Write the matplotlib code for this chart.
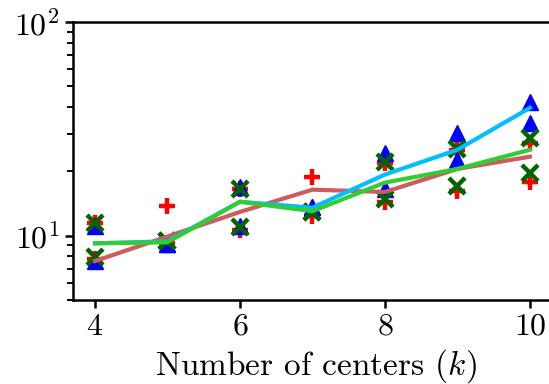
import matplotlib
matplotlib.use('Agg')
from matplotlib import pyplot as plt

plt.rcParams['font.family'] = 'serif'
plt.rcParams['font.serif'] = ['cmr10', 'DejaVu Serif']
plt.rcParams['mathtext.fontset'] = 'cm'
plt.rcParams['axes.formatter.use_mathtext'] = True

# number of centers
k = [4, 5, 6, 7, 8, 9, 10]

# individual runs (two per k)
red_hi = [11.4, 13.7, 16.5, 18.9, 21.8, 25.2, 27.2]
red_lo = [7.8, 9.2, 10.6, 12.3, 14.4, 16.1, 17.9]
blue_hi = [11.1, 9.1, 16.8, 13.6, 24.4, 30.3, 42.3]
blue_lo = [7.6, 9.1, 11.1, 13.6, 16.6, 22.6, 33.7]
green_hi = [11.5, 9.4, 16.6, 12.9, 22.2, 25.5, 28.7]
green_lo = [7.9, 9.4, 11.0, 12.9, 14.9, 17.1, 19.7]

# trend lines
brown_line = [7.6, 9.9, 12.9, 16.4, 16.0, 20.5, 23.4]
cyan_line = [9.2, 9.4, 14.4, 13.5, 19.3, 25.2, 39.6]
green_line = [9.2, 9.3, 14.4, 13.0, 17.7, 20.5, 25.2]

fig = plt.figure(figsize=(5.49, 3.84), dpi=100)
ax = fig.add_axes([0.133, 0.219, 0.885, 0.724])

for ys in (red_hi, red_lo):
    ax.plot(k, ys, '+', color='red', ms=11, mew=3.2, ls='none')
for ys in (blue_hi, blue_lo):
    ax.plot(k, ys, '^', color='blue', ms=12, ls='none')
for ys in (green_hi, green_lo):
    ax.plot(k, ys, 'x', color='darkgreen', ms=11, mew=3.2, ls='none')

ax.plot(k, brown_line, color='indianred', lw=3)
ax.plot(k, cyan_line, color='deepskyblue', lw=3)
ax.plot(k, green_line, color='limegreen', lw=3)

ax.set_yscale('log')
ax.set_ylim(5, 100)
ax.set_xlim(3.697, 10.4)
ax.set_xticks([4, 6, 8, 10])
ax.set_xlabel('Number of centers ($k$)', fontsize=24, labelpad=5)
ax.tick_params(labelsize=23, width=1.8, length=6)
ax.tick_params(which='minor', width=1.4, length=4)
for s in ax.spines.values():
    s.set_linewidth(1.8)

fig.savefig('out.png', dpi=100)
